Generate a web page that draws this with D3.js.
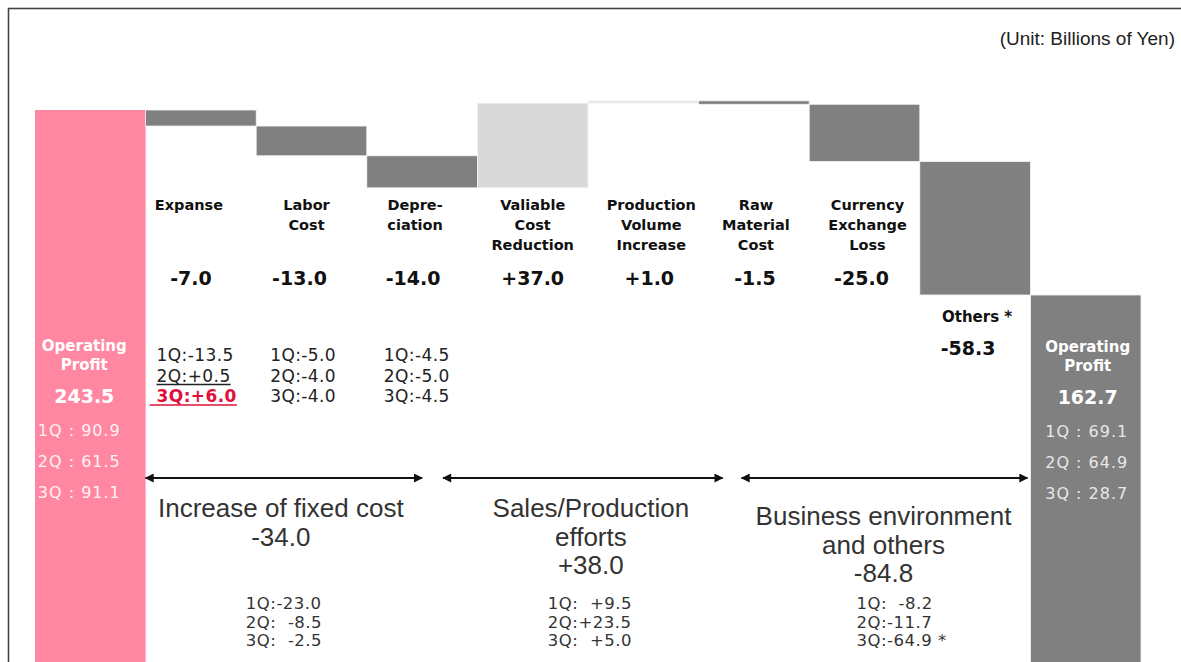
<!DOCTYPE html>
<html>
<head>
<meta charset="utf-8">
<script src="https://cdn.jsdelivr.net/npm/d3@7"></script>
<style>
  html, body { margin: 0; padding: 0; background: #fff; overflow: hidden; }
  svg { display: block; }
  text { white-space: pre; }
</style>
</head>
<body>
<svg id="chart" width="1181" height="662"></svg>
<script>
// ---------------- DATA ----------------
const categories = ["Start", "Expanse", "Labor Cost", "Depreciation", "Valiable Cost Reduction",
  "Production Volume Increase", "Raw Material Cost", "Currency Exchange Loss", "Others", "End"];
const categoryLabelLines = [
  null,
  ["Expanse"],
  ["Labor", "Cost"],
  ["Depre-", "ciation"],
  ["Valiable", "Cost", "Reduction"],
  ["Production", "Volume", "Increase"],
  ["Raw", "Material", "Cost"],
  ["Currency", "Exchange", "Loss"],
  ["Others *"],
  null
];
const startValue = 243.5;
const endValue = 162.7;
const deltas = [-7.0, -13.0, -14.0, 37.0, 1.0, -1.5, -25.0, -58.3];
const deltaLabels = ["-7.0", "-13.0", "-14.0", "+37.0", "+1.0", "-1.5", "-25.0", "-58.3"];
const startQuarters = ["1Q : 90.9", "2Q : 61.5", "3Q : 91.1"];
const endQuarters = ["1Q : 69.1", "2Q : 64.9", "3Q : 28.7"];
const expanseQuarters = ["1Q:-13.5", "2Q:+0.5", "3Q:+6.0"];
const laborQuarters = ["1Q:-5.0", "2Q:-4.0", "3Q:-4.0"];
const deprQuarters = ["1Q:-4.5", "2Q:-5.0", "3Q:-4.5"];
const groupNames = [["Increase of fixed cost"], ["Sales/Production", "efforts"], ["Business environment", "and others"]];
const groupTotals = ["-34.0", "+38.0", "-84.8"];
const groupQuarters = [
  ["1Q:-23.0", "2Q:  -8.5", "3Q:  -2.5"],
  ["1Q:  +9.5", "2Q:+23.5", "3Q:  +5.0"],
  ["1Q:  -8.2", "2Q:-11.7", "3Q:-64.9 *"]
];

// ---------------- LAYOUT ----------------
const svg = d3.select("#chart");
const x = d3.scaleBand().domain(categories).range([35, 1141]).padding(0);
const y = d3.scaleLinear().domain([0, startValue]).range([667.5, 110]);
const bw = x.bandwidth();
// small horizontal nudges of the labels (layout only)
const labelNudge = [0, -12, -5, -7, 0, 8, 2, 3, 0, 0];
const valueNudge = [0, -10, -12, -9, 0, 6, 1, -3, -7, 0];

// waterfall segments
const bars = [];
bars.push({cat: categories[0], lo: 0, hi: startValue, kind: "start"});
let run = startValue;
deltas.forEach((d, i) => {
  const a = run, b = run + d;
  bars.push({cat: categories[i + 1], lo: Math.min(a, b), hi: Math.max(a, b), kind: d >= 0 ? (i === 4 ? "pos2" : "pos") : "neg"});
  run = b;
});
bars.push({cat: categories[9], lo: 0, hi: endValue, kind: "end"});

const fills = {start: "#ff87a2", end: "#808080", neg: "#808080", pos: "#d9d9d9", pos2: "#e6e6e6"};

// frame
svg.append("rect").attr("x", 8.5).attr("y", 8.5).attr("width", 1300).attr("height", 800)
  .attr("fill", "none").attr("stroke", "#444").attr("stroke-width", 1.6);

svg.append("g").selectAll("rect").data(bars).join("rect")
  .attr("x", d => x(d.cat))
  .attr("y", d => y(d.hi))
  .attr("width", bw)
  .attr("height", d => y(d.lo) - y(d.hi))
  .attr("fill", d => fills[d.kind])
  .attr("stroke", d => (d.kind === "start") ? "none" : "#f4f4f4")
  .attr("stroke-width", 0.8);

// unit
svg.append("text").attr("x", 1175).attr("y", 45).attr("text-anchor", "end")
  .attr("font-family", "Liberation Sans, Arial, sans-serif").attr("font-size", 19)
  .attr("fill", "#222").text("(Unit: Billions of Yen)");

const boldFont = "DejaVu Sans, Verdana, sans-serif";

// category labels
for (let i = 1; i <= 7; i++) {
  const cx = x(categories[i]) + bw / 2;
  const lines = categoryLabelLines[i];
  const t = svg.append("text").attr("text-anchor", "middle").attr("font-family", boldFont)
    .attr("font-weight", "bold").attr("font-size", 14.5).attr("fill", "#111");
  lines.forEach((l, k) => t.append("tspan").attr("x", cx + labelNudge[i]).attr("y", 210 + k * 20).text(l));
  svg.append("text").attr("x", cx + valueNudge[i]).attr("y", 285).attr("text-anchor", "middle")
    .attr("font-family", boldFont).attr("font-weight", "bold").attr("font-size", 19)
    .attr("fill", "#111").text(deltaLabels[i - 1]);
}
// Others label below its bar
{
  const cx = x(categories[8]) + bw / 2;
  svg.append("text").attr("x", cx + 2).attr("y", 322).attr("text-anchor", "middle")
    .attr("font-family", boldFont).attr("font-weight", "bold").attr("font-size", 15)
    .attr("fill", "#111").text(categoryLabelLines[8][0]);
  svg.append("text").attr("x", cx + valueNudge[8]).attr("y", 355).attr("text-anchor", "middle")
    .attr("font-family", boldFont).attr("font-weight", "bold").attr("font-size", 19)
    .attr("fill", "#111").text(deltaLabels[7]);
}

// start / end bar text
function barText(cat, value, quarters, yOff, tdx, qdx, qcolor) {
  const cx = x(cat) + bw / 2;
  const g = svg.append("g").attr("font-family", boldFont).attr("text-anchor", "middle");
  g.append("text").attr("x", cx + tdx).attr("y", 351 + yOff).attr("font-weight", "bold").attr("font-size", 15)
    .attr("fill", "#fff").text("Operating");
  g.append("text").attr("x", cx + tdx).attr("y", 370 + yOff).attr("font-weight", "bold").attr("font-size", 15)
    .attr("fill", "#fff").text("Profit");
  g.append("text").attr("x", cx + tdx).attr("y", 403 + yOff).attr("font-weight", "bold").attr("font-size", 19)
    .attr("fill", "#fff").text(value.toFixed(1));
  quarters.forEach((q, k) => g.append("text").attr("x", cx + qdx).attr("y", 436 + yOff + k * 31)
    .attr("font-size", 16).attr("letter-spacing", 1).attr("fill", qcolor).text(q));
}
barText(categories[0], startValue, startQuarters, 0, -6, -11, "#fff2f5");
barText(categories[9], endValue, endQuarters, 1, 2, 1, "#e8e8e8");

// quarter details under fixed cost bars
const qFont = "DejaVu Sans, Verdana, sans-serif";
[[expanseQuarters, "Expanse"], [laborQuarters, "Labor Cost"], [deprQuarters, "Depreciation"]].forEach(([qs, cat], gi) => {
  const lx = x(cat) + 11 + gi * 3;
  qs.forEach((q, k) => {
    const isRed = (gi === 0 && k === 2);
    const yy = 361 + k * 20.5;
    const t = svg.append("text").attr("x", lx).attr("y", yy)
      .attr("font-family", qFont).attr("font-size", 17).attr("letter-spacing", 0.4)
      .attr("fill", isRed ? "#e0103c" : "#222")
      .attr("font-weight", isRed ? "bold" : "normal")
      .text(q);
    if (gi === 0 && k >= 1) {
      const w = t.node().getComputedTextLength();
      svg.append("line").attr("x1", isRed ? lx - 7 : lx).attr("x2", lx + w)
        .attr("y1", yy + 3).attr("y2", yy + 3)
        .attr("stroke", isRed ? "#e0103c" : "#222").attr("stroke-width", 1.3);
    }
  });
});

// arrows
const defs = svg.append("defs");
defs.append("marker").attr("id", "ah").attr("viewBox", "0 0 10 10").attr("refX", 9).attr("refY", 5)
  .attr("markerWidth", 11).attr("markerHeight", 9).attr("markerUnits", "userSpaceOnUse").attr("orient", "auto-start-reverse")
  .append("path").attr("d", "M0,0 L10,5 L0,10 Z").attr("fill", "#111");

const groupSpans = [
  [x("Expanse"), x("Depreciation") + bw / 2],
  [x("Depreciation") + bw / 2 + 21, x("Raw Material Cost") + 24],
  [x("Raw Material Cost") + 43, x("End") - 3]
];
const arrowY = 478;
const groupTextNudge = [-3, 8, -1];
const groupQNudge = [-38, -35, -28];
groupSpans.forEach(([a, b], gi) => {
  svg.append("line").attr("x1", a).attr("x2", b).attr("y1", arrowY).attr("y2", arrowY)
    .attr("stroke", "#111").attr("stroke-width", 2)
    .attr("marker-start", "url(#ah)").attr("marker-end", "url(#ah)");
  const cx = (a + b) / 2 + groupTextNudge[gi];
  const names = groupNames[gi];
  const top = gi === 2 ? 525 : 517;
  const t = svg.append("text").attr("text-anchor", "middle").attr("font-family", "Liberation Sans, Arial, sans-serif")
    .attr("font-size", 26).attr("fill", "#333");
  names.forEach((n, k) => t.append("tspan").attr("x", cx).attr("y", top + k * 28.5).text(n));
  t.append("tspan").attr("x", cx).attr("y", top + names.length * 28.5).text(groupTotals[gi]);
  const qx = (a + b) / 2 + groupQNudge[gi];
  groupQuarters[gi].forEach((q, k) => svg.append("text").attr("x", qx).attr("y", 609 + k * 18.5)
    .attr("font-family", qFont).attr("font-size", 16.5).attr("letter-spacing", 0.5).attr("fill", "#333").text(q));
});
</script>
</body>
</html>
